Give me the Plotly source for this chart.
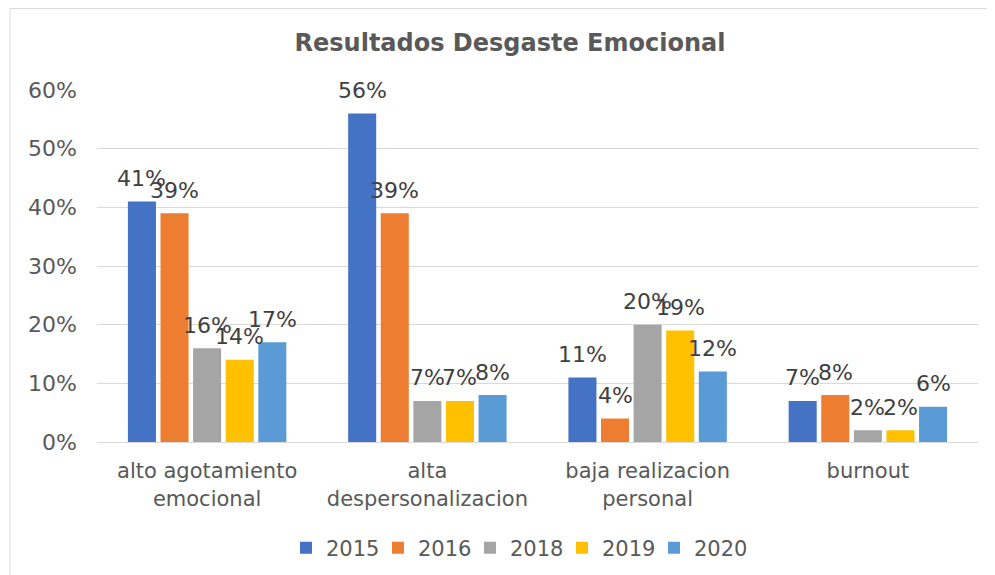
import plotly.graph_objects as go

categories = ["alto agotamiento<br>emocional", "alta<br>despersonalizacion",
              "baja realizacion<br>personal", "burnout"]
years = ["2015", "2016", "2018", "2019", "2020"]
v2015 = [0.41, 0.56, 0.11, 0.07]
v2016 = [0.39, 0.39, 0.04, 0.08]
v2018 = [0.16, 0.07, 0.20, 0.02]
v2019 = [0.14, 0.07, 0.19, 0.02]
v2020 = [0.17, 0.08, 0.12, 0.06]
series = [v2015, v2016, v2018, v2019, v2020]
colors = ["#4472C4", "#ED7D31", "#A5A5A5", "#FFC000", "#5B9BD5"]

FONT = "DejaVu Sans, Verdana, sans-serif"

# page body has an 8px margin
OFF = 8
W, H = 995 - OFF, 575 - OFF
L, R, T, B = 97 - OFF, 17, 90 - OFF, 133
pw = W - L - R
ph = H - T - B
BARGAP = 0.26
BARGROUPGAP = 0.14

fig = go.Figure()
for name, vals, col in zip(years, series, colors):
    fig.add_trace(go.Bar(
        x=categories, y=vals, name=name, marker_color=col,
        marker_line_width=0,
    ))

# data labels, centred over each bar
cat_px = pw / len(categories)
slot_px = cat_px * (1 - BARGAP) / len(series)
annotations = []
for i, vals in enumerate(series):
    dx = (i - (len(series) - 1) / 2) * slot_px
    for c, v in zip(categories, vals):
        annotations.append(dict(
            x=c, y=v, xref="x", yref="y", text=f"{round(v*100)}%",
            showarrow=False, xshift=dx, yshift=23, yanchor="middle",
            xanchor="center",
            font=dict(size=22, color="#404040", family=FONT)))

fig.update_layout(
    width=W, height=H,
    margin=dict(l=L, r=R, t=T, b=B, autoexpand=False),
    paper_bgcolor="white", plot_bgcolor="white",
    barmode="group", bargap=BARGAP, bargroupgap=BARGROUPGAP,
    font=dict(family=FONT, color="#595959", size=21),
    title=dict(text="<b>Resultados Desgaste Emocional</b>", x=(510 - OFF) / W,
               xanchor="center", y=1 - (43 - OFF) / H, yanchor="middle",
               font=dict(size=24, color="#595959", family=FONT)),
    yaxis=dict(range=[0, 0.6], dtick=0.1, tickformat=".0%", showgrid=True,
               gridcolor="#d9d9d9", gridwidth=1, zeroline=False, showline=False,
               tickfont=dict(size=22, color="#595959"), ticks="", ticklen=0,
               ticklabelstandoff=19),
    xaxis=dict(showline=True, linecolor="#d9d9d9", linewidth=1, ticks="",
               tickfont=dict(size=21, color="#595959"), ticklabelstandoff=10),
    legend=dict(orientation="h", x=(286 - 97) / pw, xanchor="left",
                y=(442 - 548) / ph, yanchor="middle",
                font=dict(size=21, color="#595959"), itemwidth=30,
                entrywidth=47, tracegroupgap=0),
    annotations=annotations,
    shapes=[dict(type="rect", xref="paper", yref="paper",
                 x0=(10 - 97) / pw, x1=(1010 - 97) / pw,
                 y0=(442 - 600) / ph, y1=(442 - 8.5) / ph,
                 line=dict(color="#d9d9d9", width=1), layer="below")],
)

fig.write_html("out.html")
